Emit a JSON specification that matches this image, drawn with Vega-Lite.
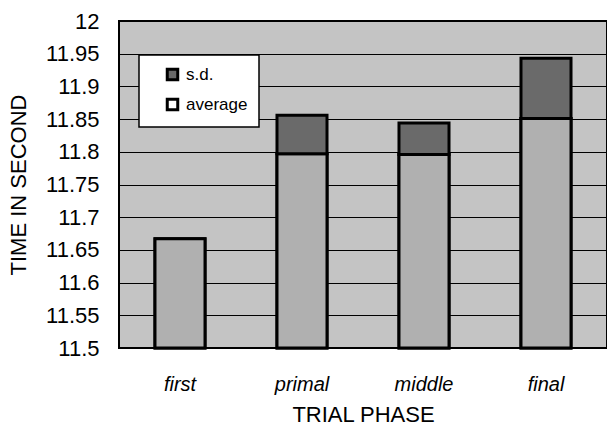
{
  "$schema": "https://vega.github.io/schema/vega-lite/v6.json",
  "width": 488,
  "height": 327,
  "autosize": {"type": "none"},
  "padding": {"left": 119, "top": 21, "right": 0, "bottom": 79},
  "background": "white",
  "config": {
    "font": "Liberation Sans",
    "view": {"fill": "#c4c4c4", "stroke": "black", "strokeWidth": 2},
    "axisY": {
      "titleFontSize": 22,
      "titleFontWeight": "normal",
      "titleColor": "black",
      "titlePadding": 15,
      "format": "~g",
      "labelFontSize": 22,
      "labelColor": "black",
      "labelPadding": 20,
      "labelOverlap": false,
      "ticks": false,
      "domain": false,
      "grid": true,
      "gridColor": "black",
      "gridWidth": 1.2,
      "gridOpacity": 1
    }
  },
  "data": {
    "values": [
      {"phase": "first", "average": 11.667, "upper": null},
      {"phase": "primal", "average": 11.797, "upper": 11.856},
      {"phase": "middle", "average": 11.796, "upper": 11.844},
      {"phase": "final", "average": 11.851, "upper": 11.943}
    ]
  },
  "encoding": {
    "x": {
      "field": "phase",
      "type": "nominal",
      "sort": ["first", "primal", "middle", "final"],
      "scale": {"paddingInner": 0.59, "paddingOuter": 0.295},
      "axis": {
        "title": "TRIAL PHASE",
        "titleFontSize": 22,
        "titleFontWeight": "normal",
        "titleColor": "black",
        "titlePadding": 10,
        "labelAngle": 0,
        "labelFontSize": 20,
        "labelFontStyle": "italic",
        "labelColor": "black",
        "labelPadding": 26,
        "ticks": false,
        "domain": false
      }
    }
  },
  "layer": [
    {
      "mark": {"type": "bar", "stroke": "black", "strokeWidth": 3},
      "encoding": {
        "y": {
          "field": "average",
          "type": "quantitative",
          "title": "TIME IN SECOND",
          "scale": {"domain": [11.5, 12], "zero": false, "nice": false},
          "axis": {"values": [11.5, 11.55, 11.6, 11.65, 11.7, 11.75, 11.8, 11.85, 11.9, 11.95, 12], "labelOverlap": false}
        },
        "y2": {"datum": 11.5},
        "color": {"datum": "average"}
      }
    },
    {
      "description": "Grey fill of the average bars, painted over the keyed layer",
      "mark": {"type": "bar", "stroke": "black", "strokeWidth": 3, "fill": "#b0b0b0"},
      "encoding": {
        "y": {
          "field": "average",
          "type": "quantitative",
          "title": "TIME IN SECOND",
          "axis": {"values": [11.5, 11.55, 11.6, 11.65, 11.7, 11.75, 11.8, 11.85, 11.9, 11.95, 12], "labelOverlap": false}
        },
        "y2": {"datum": 11.5}
      }
    },
    {
      "transform": [{"filter": "datum.upper != null"}],
      "mark": {"type": "bar", "stroke": "black", "strokeWidth": 3},
      "encoding": {
        "y": {
          "field": "upper",
          "type": "quantitative",
          "title": "TIME IN SECOND",
          "axis": {"values": [11.5, 11.55, 11.6, 11.65, 11.7, 11.75, 11.8, 11.85, 11.9, 11.95, 12], "labelOverlap": false}
        },
        "y2": {"field": "average"},
        "color": {
          "datum": "s.d.",
          "scale": {"domain": ["s.d.", "average"], "range": ["#6a6a6a", "white"]},
          "legend": {
            "title": null,
            "orient": "none",
            "legendX": 20,
            "legendY": 34,
            "fillColor": "white",
            "strokeColor": "black",
            "padding": 11,
            "symbolType": "square",
            "symbolSize": 110,
            "symbolStrokeWidth": 3,
            "symbolStrokeColor": "black",
            "symbolOffset": 14,
            "labelFontSize": 17,
            "labelColor": "black",
            "labelOffset": 5,
            "rowPadding": 7,
            "encode": {
              "legend": {"update": {"strokeWidth": {"value": 1.5}}},
              "symbols": {
                "update": {
                  "stroke": {"value": "black"},
                  "strokeWidth": {"value": 3},
                  "opacity": {"value": 1}
                }
              }
            }
          }
        }
      }
    }
  ]
}
